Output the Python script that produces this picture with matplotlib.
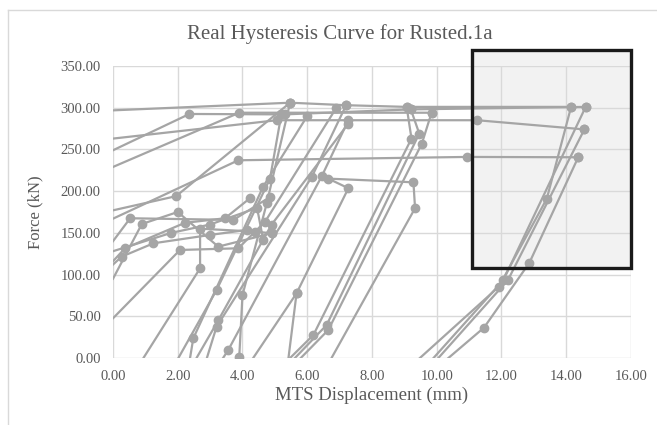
import matplotlib
matplotlib.use("Agg")
import matplotlib.pyplot as plt
from matplotlib.patches import Rectangle

plt.rcParams['font.family'] = ['Liberation Serif', 'DejaVu Serif']

# each cycle of the test is one polyline (displacement mm, force kN)
cycles = [
    [(-0.5, 296), (5.47, 306), (7.2, 303), (9.07, 301), (14.15, 301)],
    [(0, 263), (5.06, 285), (11.25, 285), (14.56, 274)],
    [(0, 249), (2.36, 292.5), (5.3, 292), (9.2, 298), (14.6, 301)],
    [(0, 229), (3.9, 294), (9.84, 294)],
    [(0, 167), (3.87, 237), (10.92, 241), (14.37, 240.6)],
    [(0, 177), (1.95, 194), (5.47, 306)],
    [(14.15, 301), (13.4, 191), (11.92, 85.5), (9.48, 0)],
    [(14.6, 301), (12.06, 93.5), (9.9, 0)],
    [(14.56, 274), (12.2, 93.5), (10.05, 0)],
    [(14.37, 240.6), (12.86, 114), (11.46, 36.4), (10.36, 0)],
    [(9.07, 301), (9.22, 263), (6.19, 27.6), (5.47, 0)],
    [(9.2, 298), (9.46, 269), (6.6, 39.6), (5.62, 0)],
    [(9.84, 294), (9.54, 257), (6.65, 33.6), (5.8, 0)],
    [(4.33, 0), (5.67, 77.6), (7.27, 203.5), (6.65, 215), (9.28, 210.6),
     (9.33, 179.5), (6.75, 0)],
    [(2.9, 0), (3.2, 37.6), (6.14, 217), (7.2, 303)],
    [(3.4, 0), (3.56, 9.6), (6.45, 218), (7.27, 285)],
    [(2.02, 0), (3.2, 81.5), (4.85, 215), (5.2, 292)],
    [(2.38, 0), (2.48, 23.6), (4.64, 205.5), (6.0, 290)],
    [(3.85, 0), (3.9, 1.6), (4.0, 75.5), (4.75, 185.5), (5.47, 306)],
    [(2.58, 0), (3.25, 45), (4.9, 160), (7.27, 281)],
    [(5.42, 0), (5.67, 77.6)],
    [(0.94, 0), (2.69, 107.5), (2.69, 155), (4.39, 151.5), (4.9, 149.5)],
    [(0, 47.6), (2.07, 129.5), (3.87, 131.5), (4.7, 163.5), (6.9, 300)],
    [(0, 112), (0.27, 121.5), (1.25, 137.5), (3.0, 147.5), (4.13, 153.5)],
    [(0, 116), (0.37, 131.5), (2.22, 162), (3.46, 167.5), (4.23, 191.5)],
    [(0, 140), (0.53, 167.5), (3.72, 165.5), (4.85, 193)],
    [(0, 95), (0.89, 160.6), (2.0, 175), (3.25, 133.5), (4.9, 149.5)],
    [(0, 128), (1.8, 150), (3.0, 160), (4.45, 180), (4.64, 141.5)],
]

x_ticks = [0, 2, 4, 6, 8, 10, 12, 14, 16]
y_ticks = [0, 50, 100, 150, 200, 250, 300, 350]

fig = plt.figure(figsize=(6.57, 4.25), dpi=100)
ax = fig.add_axes([113/657, 1-358/425, 518/657, 292/425])

grey = "#a5a5a5"
for c in cycles:
    xs = [p[0] for p in c]
    ys = [p[1] for p in c]
    # points lying on the axis border belong to lines running off the chart
    inside = [i for i, p in enumerate(c) if p[0] > 0 and p[1] > 0]
    ax.plot(xs, ys, "-", color=grey, lw=1.6, marker="o", ms=6,
            markevery=inside, zorder=3)

# highlighted region
ax.add_patch(Rectangle((11.09, 108), 16 - 11.09, 369 - 108, facecolor="#f2f2f2",
                       edgecolor="none", zorder=0.2, clip_on=False))
ax.add_patch(Rectangle((11.09, 108), 16 - 11.09, 369 - 108, facecolor="none",
                       edgecolor="#1a1a1a", lw=2.4, zorder=5, clip_on=False))

ax.set_xlim(0, 16)
ax.set_ylim(0, 350)
ax.set_xticks(x_ticks)
ax.set_xticklabels([f"{v:.2f}" for v in x_ticks])
ax.set_yticks(y_ticks)
ax.set_yticklabels([f"{v:.2f}" for v in y_ticks])
ax.grid(True, color="#d9d9d9", lw=1.0)
ax.set_axisbelow(True)
for s in ax.spines.values():
    s.set_visible(False)
ax.tick_params(length=0, labelsize=10.5, colors="#595959", pad=9)
ax.set_xlabel("MTS Displacement (mm)", fontsize=13.5, color="#595959", labelpad=2)
ax.set_ylabel("Force (kN)", fontsize=12, color="#595959", labelpad=12)
fig.text(340/657, 1-34/425, "Real Hysteresis Curve for Rusted.1a", fontsize=15,
         color="#595959", ha="center", va="center")

# chart frame
fig.add_artist(plt.Line2D([8/657, 8/657], [0, 1-10/425], color="#d9d9d9", lw=1))
fig.add_artist(plt.Line2D([8/657, 1], [1-10/425, 1-10/425], color="#d9d9d9", lw=1))

fig.savefig("out.png", dpi=100)
